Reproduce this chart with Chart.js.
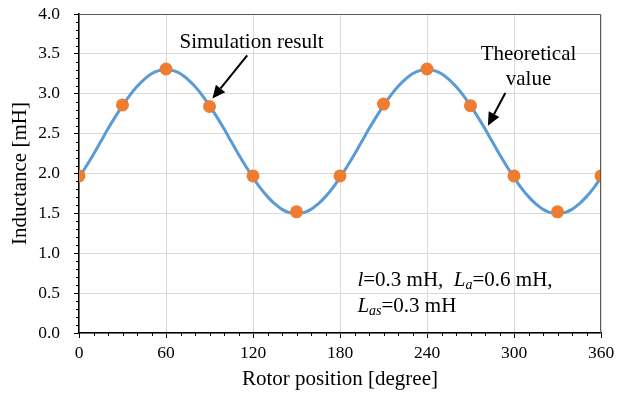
<!DOCTYPE html>
<html><head><meta charset="utf-8">
<script src="https://cdn.jsdelivr.net/npm/chart.js@4"></script>
<style>html,body{margin:0;padding:0;background:#fff}#wrap{width:625px;height:394px}</style>
</head><body><div id="wrap"><canvas id="c" width="625" height="394"></canvas></div>
<script>
// ---- data ----
const simAngles = [0, 30, 60, 90, 120, 150, 180, 210, 240, 270, 300, 330, 360];
const simValues = [1.97, 2.86, 3.31, 2.84, 1.97, 1.52, 1.97, 2.87, 3.31, 2.85, 1.97, 1.52, 1.97];
const theoAngles = [0,5,10,15,20,25,30,35,40,45,50,55,60,65,70,75,80,85,90,95,100,105,110,115,120,125,130,135,140,145,150,155,160,165,170,175,180,
  185,190,195,200,205,210,215,220,225,230,235,240,245,250,255,260,265,270,275,280,285,290,295,300,305,310,315,320,325,330,335,340,345,350,355,360];
const theoValues = [1.95,2.09,2.24,2.40,2.56,2.71,2.85,2.98,3.09,3.18,3.25,3.29,3.30,3.29,3.25,3.18,3.09,2.98,2.85,2.71,2.56,2.40,2.24,2.09,1.95,1.82,1.71,1.62,1.55,1.51,1.50,1.51,1.55,1.62,1.71,1.82,1.95,
  2.09,2.24,2.40,2.56,2.71,2.85,2.98,3.09,3.18,3.25,3.29,3.30,3.29,3.25,3.18,3.09,2.98,2.85,2.71,2.56,2.40,2.24,2.09,1.95,1.82,1.71,1.62,1.55,1.51,1.50,1.51,1.55,1.62,1.71,1.82,1.95];
const xTicks = [0, 60, 120, 180, 240, 300, 360];
const yTicks = [0.0, 0.5, 1.0, 1.5, 2.0, 2.5, 3.0, 3.5, 4.0];
const xTitle = 'Rotor position [degree]';
const yTitle = 'Inductance [mH]';
const simLabel = 'Simulation result';
const theoLabel = ['Theoretical', 'value'];

const FONT = '"Liberation Serif", "Times New Roman", serif';

// annotation anchors (data coordinates)
const simLabelAt = {x: 119, y: 3.64};
const simArrow = {from: {x: 116, y: 3.48}, to: {x: 92, y: 2.94}};
const theoLabelAt = [{x: 310, y: 3.49}, {x: 310, y: 3.18}];
const theoArrow = {from: {x: 294, y: 3.01}, to: {x: 282, y: 2.60}};
const paramAt = [{x: 192, y: 0.66}, {x: 192, y: 0.33}];

const simData = simAngles.map((a, i) => ({x: a, y: simValues[i]}));
const theoData = theoAngles.map((a, i) => ({x: a, y: theoValues[i]}));

function arrow(ctx, x1, y1, x2, y2) {
  const ang = Math.atan2(y2 - y1, x2 - x1);
  const hl = 13, hw = 6;
  const bx = x2 - hl * Math.cos(ang), by = y2 - hl * Math.sin(ang);
  ctx.save();
  ctx.strokeStyle = '#000'; ctx.fillStyle = '#000'; ctx.lineWidth = 2;
  ctx.beginPath(); ctx.moveTo(x1, y1); ctx.lineTo(bx, by); ctx.stroke();
  ctx.beginPath();
  ctx.moveTo(x2, y2);
  ctx.lineTo(bx + hw * Math.sin(ang), by - hw * Math.cos(ang));
  ctx.lineTo(bx - hw * Math.sin(ang), by + hw * Math.cos(ang));
  ctx.closePath(); ctx.fill();
  ctx.restore();
}

function drawRich(ctx, x, y, parts) {
  let cx = x;
  for (const p of parts) {
    ctx.font = (p.italic ? 'italic ' : '') + (p.size || 21) + 'px ' + FONT;
    ctx.fillText(p.t, cx, y + (p.dy || 0));
    cx += ctx.measureText(p.t).width;
  }
}

const extras = {
  id: 'extras',
  afterDraw(chart) {
    const ctx = chart.ctx, xs = chart.scales.x, ys = chart.scales.y, a = chart.chartArea;
    ctx.save();
    // frame top/right
    ctx.strokeStyle = '#595959'; ctx.lineWidth = 1;
    ctx.beginPath();
    ctx.moveTo(a.left, a.top + 0.5); ctx.lineTo(a.right - 0.5, a.top + 0.5); ctx.lineTo(a.right - 0.5, a.bottom);
    ctx.stroke();
    // minor ticks
    ctx.strokeStyle = '#000'; ctx.lineWidth = 1;
    ctx.beginPath();
    for (let v = 10; v < 360; v += 10) {
      if (v % 60 === 0) continue;
      const px = Math.round(xs.getPixelForValue(v)) + 0.5;
      ctx.moveTo(px, a.bottom); ctx.lineTo(px, a.bottom + 3);
    }
    for (let k = 1; k < 40; k++) {
      if (k % 5 === 0) continue;
      const py = Math.round(ys.getPixelForValue(k / 10)) + 0.5;
      ctx.moveTo(a.left, py); ctx.lineTo(a.left - 3, py);
    }
    ctx.stroke();
    // annotations
    ctx.fillStyle = '#000';
    ctx.textBaseline = 'middle';
    ctx.textAlign = 'center';
    ctx.font = '21px ' + FONT;
    ctx.fillText(simLabel, xs.getPixelForValue(simLabelAt.x), ys.getPixelForValue(simLabelAt.y));
    theoLabel.forEach((t, i) => ctx.fillText(t, xs.getPixelForValue(theoLabelAt[i].x), ys.getPixelForValue(theoLabelAt[i].y)));
    arrow(ctx, xs.getPixelForValue(simArrow.from.x), ys.getPixelForValue(simArrow.from.y), xs.getPixelForValue(simArrow.to.x), ys.getPixelForValue(simArrow.to.y));
    arrow(ctx, xs.getPixelForValue(theoArrow.from.x), ys.getPixelForValue(theoArrow.from.y), xs.getPixelForValue(theoArrow.to.x), ys.getPixelForValue(theoArrow.to.y));
    ctx.textAlign = 'left';
    drawRich(ctx, xs.getPixelForValue(paramAt[0].x), ys.getPixelForValue(paramAt[0].y), [
      {t: 'l', italic: true}, {t: '=0.3 mH,  '}, {t: 'L', italic: true}, {t: 'a', italic: true, size: 14, dy: 5}, {t: '=0.6 mH,'}
    ]);
    drawRich(ctx, xs.getPixelForValue(paramAt[1].x), ys.getPixelForValue(paramAt[1].y), [
      {t: 'L', italic: true}, {t: 'as', italic: true, size: 14, dy: 5}, {t: '=0.3 mH'}
    ]);
    ctx.restore();
  }
};

new Chart(document.getElementById('c').getContext('2d'), {
  type: 'scatter',
  data: {
    datasets: [
      {label: simLabel, data: simData, showLine: false, pointRadius: 6.5, pointHoverRadius: 6.5,
       pointBackgroundColor: '#ED7D31', pointBorderColor: '#ED7D31', pointBorderWidth: 0},
      {label: theoLabel.join(' '), data: theoData, showLine: true, borderColor: '#5B9BD5', borderWidth: 3,
       pointRadius: 0, tension: 0.4, fill: false}
    ]
  },
  options: {
    responsive: false, animation: false,
    plugins: {legend: {display: false}, tooltip: {enabled: false}},
    layout: {padding: {top: 14, right: 24, left: 0, bottom: 0}},
    scales: {
      x: {
        type: 'linear', min: 0, max: 360,
        afterBuildTicks(s) { s.ticks = xTicks.map(v => ({value: v})); },
        ticks: {color: '#000', font: {family: FONT, size: 17.5}, padding: 5, autoSkip: false, maxRotation: 0,
                callback: v => String(v)},
        grid: {color: '#d9d9d9', tickColor: '#000', tickLength: 5, lineWidth: 1},
        border: {color: '#000', width: 1.5},
        title: {display: true, text: xTitle, color: '#000', font: {family: FONT, size: 21}, padding: {top: 0, bottom: 1.5}},
        afterFit(s) { s.height = 61; s.paddingLeft = 0; s.paddingRight = 0; }
      },
      y: {
        type: 'linear', min: 0, max: 4,
        afterBuildTicks(s) { s.ticks = yTicks.map(v => ({value: v})); },
        ticks: {color: '#000', font: {family: FONT, size: 17.5}, padding: 14, autoSkip: false,
                callback: v => Number(v).toFixed(1)},
        grid: {color: '#d9d9d9', tickColor: '#000', tickLength: 5, lineWidth: 1},
        border: {color: '#000', width: 1.5},
        title: {display: true, text: yTitle, color: '#000', font: {family: FONT, size: 21}, padding: {top: 8, bottom: 0}},
        afterFit(s) { s.width = 79; s.paddingTop = 0; s.paddingBottom = 0; }
      }
    }
  },
  plugins: [extras]
});
</script></body></html>
